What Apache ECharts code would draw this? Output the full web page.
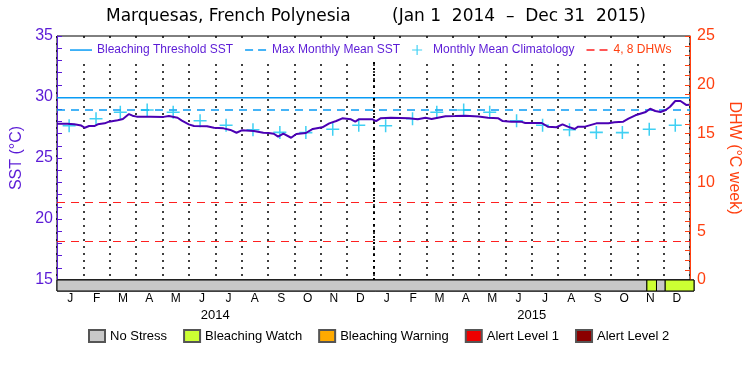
<!DOCTYPE html>
<html>
<head>
<meta charset="utf-8">
<script src="https://cdn.jsdelivr.net/npm/echarts@6/dist/echarts.min.js"></script>
<style>
  html, body { margin: 0; padding: 0; background: #fff; }
  #chart { width: 750px; height: 375px; }
</style>
</head>
<body>
<div id="chart"></div>
<script>
// daily SST (sampled where the curve turns)
const sstDates = ['2014-01-01','2014-01-13','2014-01-21','2014-01-29','2014-02-02','2014-02-07','2014-02-13','2014-02-17','2014-02-19','2014-02-25',
  '2014-03-02','2014-03-12','2014-03-18','2014-03-20','2014-03-25','2014-03-29','2014-04-03','2014-04-19','2014-05-04','2014-05-10',
  '2014-05-20','2014-05-25','2014-06-02','2014-06-08','2014-06-23','2014-07-01','2014-07-12','2014-07-20','2014-07-27','2014-08-02',
  '2014-08-16','2014-08-27','2014-09-02','2014-09-08','2014-09-13','2014-09-19','2014-09-28','2014-10-04','2014-10-15','2014-10-23',
  '2014-11-03','2014-11-11','2014-11-19','2014-11-26','2014-12-06','2014-12-11','2014-12-15','2014-12-31','2015-01-04','2015-01-09',
  '2015-01-21','2015-02-11','2015-02-21','2015-03-02','2015-03-09','2015-03-25','2015-04-05','2015-04-17','2015-05-02','2015-05-13',
  '2015-05-25','2015-05-30','2015-06-09','2015-06-20','2015-06-25','2015-07-14','2015-07-21','2015-07-31','2015-08-07','2015-08-13',
  '2015-08-21','2015-08-25','2015-09-02','2015-09-15','2015-09-29','2015-09-30','2015-10-06','2015-10-16','2015-10-22','2015-10-30',
  '2015-11-11','2015-11-16','2015-11-22','2015-11-28','2015-12-04','2015-12-09','2015-12-15','2015-12-21','2015-12-28','2015-12-30','2015-12-31'];
const sstValues = [27.81,27.81,27.76,27.66,27.48,27.62,27.62,27.76,27.62,27.84,
  27.98,28.09,28.2,28.1,28.6,28.47,28.39,28.39,28.37,28.44,
  28.3,28.06,27.76,27.62,27.6,27.48,27.43,27.3,27.07,27.27,
  27.22,27.07,27.05,26.99,26.75,26.99,26.66,26.97,27.05,27.38,
  27.52,27.84,28.03,28.25,28.17,27.98,28.17,28.17,28.03,28.25,
  28.3,28.25,28.17,28.3,28.2,28.42,28.44,28.47,28.4,28.3,
  28.25,28.03,27.98,27.98,27.87,27.87,27.57,27.52,27.76,27.57,
  27.38,27.57,27.57,27.84,27.84,27.98,27.93,27.98,28.22,28.5,
  28.77,29.04,28.85,28.77,28.93,29.2,29.67,29.67,29.34,29.2,29.37];

// monthly mean climatology, Jan..Dec
const climatology = [27.65,28.22,28.75,28.93,28.75,28.06,27.68,27.32,27.1,27.08,27.35,27.68];
const years = ['2014', '2015'];
const monthLetters = ['J','F','M','A','M','J','J','A','S','O','N','D'];

const maxMonthlyMean = 28.93;
const bleachingThreshold = 29.93;
const dhwLevels = [4, 8];

const startDate = '2014-01-01';
const endDate = '2016-01-01';

// stress level bar
const stressNames = ['No Stress', 'Bleaching Watch', 'Bleaching Warning', 'Alert Level 1', 'Alert Level 2'];
const stressColors = ['#c8c8c8', '#ccff33', '#ffaa00', '#ee0000', '#8b0000'];
const stressPeriods = [
  [['2014-01-01', '2015-11-08'], ['2015-11-19', '2015-11-29']],
  [['2015-11-08', '2015-11-19'], ['2015-11-29', '2016-01-01']],
  [],
  [],
  []
];

const purple = '#5b1bd6';
const orange = '#ff4010';
const cyan = '#0a9cf5';
const font = 'Liberation Sans, Arial, sans-serif';

const monthCats = [];
years.forEach(y => monthLetters.forEach(m => monthCats.push(m)));

const climData = [];
years.forEach(y => climatology.forEach((v, i) => {
  climData.push([y + '-' + String(i + 1).padStart(2, '0') + '-15', v]);
}));

// legend / symbol shapes
const plusIcon = 'path://M5.3,0h1.4v5.3h5.3v1.4h-5.3v5.3h-1.4v-5.3h-5.3v-1.4h5.3z';
const solidIcon = 'path://M0,0M0,4.3h22v1.5h-22zM22,10';
const dashIcon = 'path://M0,0M0,4.3h8v1.5h-8zM13,4.3h8v1.5h-8zM22,10';

const chart = echarts.init(document.getElementById('chart'));

const stressSeries = stressNames.map((name, k) => ({
  name: name,
  type: 'custom',
  xAxisIndex: 3,
  yAxisIndex: 2,
  itemStyle: { color: stressColors[k], borderColor: '#555', borderWidth: 1 },
  encode: { x: [0, 1] },
  renderItem: function (params, api) {
    const s = api.coord([api.value(0), 0]);
    const e = api.coord([api.value(1), 1]);
    return {
      type: 'rect',
      shape: { x: s[0], y: e[1], width: e[0] - s[0], height: s[1] - e[1] },
      style: { fill: stressColors[k], stroke: '#000', lineWidth: 1 }
    };
  },
  data: stressPeriods[k]
}));

chart.setOption({
  animation: false,
  backgroundColor: '#fff',
  title: [
    {
      text: 'Marquesas, French Polynesia',
      left: 106, top: 8, padding: 0,
      textStyle: { fontFamily: 'DejaVu Sans', fontWeight: 'normal', fontSize: 17, color: '#000' }
    },
    {
      text: '(Jan 1  2014  \u2013  Dec 31  2015)',
      left: 392, top: 8, padding: 0,
      textStyle: { fontFamily: 'DejaVu Sans', fontWeight: 'normal', fontSize: 17, color: '#000' }
    }
  ],
  legend: [
    {
      left: 66, top: 39, padding: [5, 4, 5, 4],
      backgroundColor: '#fff',
      z: 10,
      itemWidth: 22, itemHeight: 10, itemGap: 12,
      textStyle: { fontFamily: font, fontSize: 12, color: purple },
      data: [
        { name: 'Bleaching Threshold SST', icon: solidIcon },
        { name: 'Max Monthly Mean SST', icon: dashIcon },
        { name: 'Monthly Mean Climatology', icon: plusIcon },
        { name: '4, 8 DHWs', icon: dashIcon, textStyle: { color: orange } }
      ]
    },
    {
      left: 88, top: 329, padding: 0,
      itemWidth: 16, itemHeight: 12, itemGap: 16,
      icon: 'rect',
      textStyle: { fontFamily: font, fontSize: 13, color: '#000' },
      data: stressNames
    }
  ],
  grid: [
    { left: 57, right: 56, top: 36, bottom: 95, show: true, borderColor: '#000', borderWidth: 1 },
    { left: 57, right: 56, top: 280, bottom: 84, show: true, borderColor: '#000', borderWidth: 1 }
  ],
  xAxis: [
    { type: 'time', gridIndex: 0, min: startDate, max: endDate, show: false },
    {
      type: 'category', gridIndex: 0, position: 'bottom', data: monthCats, boundaryGap: true,
      axisLine: { show: false }, axisTick: { show: false },
      axisLabel: { color: '#000', fontFamily: font, fontSize: 12, margin: 13 },
      splitLine: { show: true, lineStyle: { color: '#000', type: [2, 5], width: 1.5 } }
    },
    {
      type: 'category', gridIndex: 0, position: 'bottom', data: years, boundaryGap: true,
      axisLine: { show: false }, axisTick: { show: false },
      axisLabel: { color: '#000', fontFamily: font, fontSize: 13, margin: 29 },
      splitLine: { show: false }
    },
    { type: 'time', gridIndex: 1, min: startDate, max: endDate, show: false }
  ],
  yAxis: [
    {
      type: 'value', gridIndex: 0, min: 15, max: 35, interval: 5,
      name: 'SST (°C)', nameLocation: 'middle', nameGap: 32, nameRotate: 90,
      nameTextStyle: { color: purple, fontFamily: font, fontSize: 16 },
      axisLine: { show: true, lineStyle: { color: purple } },
      axisTick: { show: true, inside: true, length: 5, lineStyle: { color: purple } },
      minorTick: { show: true, splitNumber: 5, length: 5, lineStyle: { color: purple } },
      axisLabel: { color: purple, fontFamily: font, fontSize: 16, margin: 4 },
      splitLine: { show: false }
    },
    {
      type: 'value', gridIndex: 0, position: 'right', min: 0, max: 25, interval: 5,
      name: 'DHW (°C week)', nameLocation: 'middle', nameGap: 36, nameRotate: -90,
      nameTextStyle: { color: orange, fontFamily: font, fontSize: 16 },
      axisLine: { show: true, lineStyle: { color: orange } },
      axisTick: { show: true, inside: true, length: 5, lineStyle: { color: orange } },
      minorTick: { show: true, splitNumber: 5, length: 5, lineStyle: { color: orange } },
      axisLabel: { color: orange, fontFamily: font, fontSize: 16, margin: 7 },
      splitLine: { show: false }
    },
    { type: 'value', gridIndex: 1, min: 0, max: 1, show: false }
  ],
  series: [
    {
      name: 'Bleaching Threshold SST',
      type: 'line', xAxisIndex: 0, yAxisIndex: 0,
      symbol: 'none',
      lineStyle: { color: cyan, width: 1.5 },
      itemStyle: { color: cyan },
      data: [[startDate, bleachingThreshold], [endDate, bleachingThreshold]]
    },
    {
      name: 'Max Monthly Mean SST',
      type: 'line', xAxisIndex: 0, yAxisIndex: 0,
      symbol: 'none',
      lineStyle: { color: cyan, width: 1.5, type: [8, 6] },
      itemStyle: { color: cyan },
      data: [[startDate, maxMonthlyMean], [endDate, maxMonthlyMean]]
    },
    {
      name: '4, 8 DHWs',
      type: 'line', xAxisIndex: 0, yAxisIndex: 1,
      symbol: 'none',
      lineStyle: { color: '#ff2020', width: 1.2, type: [8, 6] },
      itemStyle: { color: '#ff2020' },
      data: [],
      markLine: {
        silent: true, symbol: 'none', label: { show: false },
        lineStyle: { color: '#ff2020', width: 1.2, type: [8, 6] },
        data: dhwLevels.map(v => ({ yAxis: v }))
      }
    },
    {
      name: 'Monthly Mean Climatology',
      type: 'scatter', xAxisIndex: 0, yAxisIndex: 0,
      symbol: plusIcon, symbolSize: 13,
      itemStyle: { color: '#10c4f0' },
      data: climData,
      z: 3
    },
    {
      name: 'SST',
      type: 'line', xAxisIndex: 0, yAxisIndex: 0,
      symbol: 'none',
      lineStyle: { color: '#4a00b4', width: 2 },
      data: sstDates.map((d, i) => [d, sstValues[i]]),
      markLine: {
        silent: true, symbol: 'none', label: { show: false },
        lineStyle: { color: '#000', type: [2, 4], width: 2 },
        data: [{ xAxis: '2015-01-01' }]
      },
      z: 4
    }
  ].concat(stressSeries)
});
</script>
</body>
</html>
